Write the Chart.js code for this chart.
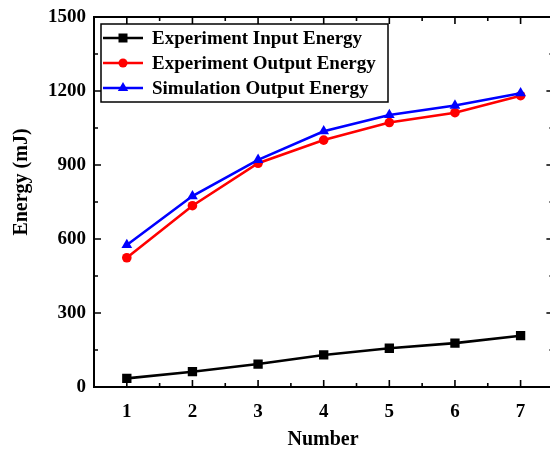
<!DOCTYPE html>
<html>
<head>
<meta charset="utf-8">
<script src="https://cdn.jsdelivr.net/npm/chart.js@4"></script>
<style>
  html, body { margin: 0; padding: 0; background: #fff; overflow: hidden; }
  #wrap { width: 550px; height: 449px; overflow: hidden; }
</style>
</head>
<body>
<div id="wrap"><canvas id="energyChart" width="560" height="449"></canvas></div>
<script>
const numbers = [1, 2, 3, 4, 5, 6, 7];
const inputEnergy = [35, 62, 93, 130, 157, 178, 208];
const outputEnergy = [524, 735, 907, 1001, 1072, 1112, 1181];
const simEnergy = [576, 774, 921, 1037, 1103, 1141, 1191];
const seriesNames = ['Experiment Input Energy', 'Experiment Output Energy', 'Simulation Output Energy'];
const xTicks = [1, 2, 3, 4, 5, 6, 7];
const yTicks = [0, 300, 600, 900, 1200, 1500];

const serif = '"Liberation Serif", "Times New Roman", serif';

function toPoints(values) {
    return numbers.map((n, i) => ({ x: n, y: values[i] }));
}

function drawMarker(ctx, style, x, y, color) {
    ctx.fillStyle = color;
    ctx.beginPath();
    if (style === 'rect') {
        ctx.rect(x - 4.5, y - 4.5, 9, 9);
    } else if (style === 'circle') {
        ctx.arc(x, y, 4.5, 0, Math.PI * 2);
    } else {
        ctx.moveTo(x, y - 6);
        ctx.lineTo(x + 5.2, y + 3);
        ctx.lineTo(x - 5.2, y + 3);
        ctx.closePath();
    }
    ctx.fill();
}

// frame, inward ticks, axis titles and the boxed legend
const framePlugin = {
    id: 'frame',
    afterDraw(chart) {
        const { ctx, chartArea: a, scales } = chart;
        const xs = scales.x, ys = scales.y;
        ctx.save();
        ctx.strokeStyle = '#000';
        ctx.lineWidth = 2;
        ctx.strokeRect(a.left, a.top, a.right - a.left, a.bottom - a.top);

        ctx.lineWidth = 1.6;
        ctx.beginPath();
        xTicks.forEach(v => {
            const px = xs.getPixelForValue(v);
            ctx.moveTo(px, a.bottom); ctx.lineTo(px, a.bottom - 7);
            ctx.moveTo(px, a.top); ctx.lineTo(px, a.top + 7);
            const mx = xs.getPixelForValue(v + 0.5);
            ctx.moveTo(mx, a.bottom); ctx.lineTo(mx, a.bottom - 4);
            ctx.moveTo(mx, a.top); ctx.lineTo(mx, a.top + 4);
        });
        yTicks.forEach((v, i) => {
            const py = ys.getPixelForValue(v);
            ctx.moveTo(a.left, py); ctx.lineTo(a.left + 7, py);
            ctx.moveTo(a.right, py); ctx.lineTo(a.right - 7, py);
            if (i < yTicks.length - 1) {
                const my = ys.getPixelForValue(v + 150);
                ctx.moveTo(a.left, my); ctx.lineTo(a.left + 4, my);
                ctx.moveTo(a.right, my); ctx.lineTo(a.right - 4, my);
            }
        });
        ctx.stroke();

        // axis titles
        ctx.fillStyle = '#000';
        ctx.font = 'bold 20px ' + serif;
        ctx.textAlign = 'center';
        ctx.textBaseline = 'alphabetic';
        ctx.fillText('Number', 323, 445);
        ctx.save();
        ctx.translate(22, 182);
        ctx.rotate(-Math.PI / 2);
        ctx.textBaseline = 'middle';
        ctx.fillText('Energy (mJ)', 0, 0);
        ctx.restore();

        // legend
        ctx.fillStyle = '#fff';
        ctx.fillRect(101, 24, 287, 78);
        ctx.lineWidth = 1.5;
        ctx.strokeStyle = '#000';
        ctx.strokeRect(101, 24, 287, 78);
        ctx.font = 'bold 19px ' + serif;
        ctx.textAlign = 'left';
        ctx.textBaseline = 'middle';
        chart.data.datasets.forEach((ds, i) => {
            const y = 38 + i * 25;
            ctx.strokeStyle = ds.borderColor;
            ctx.lineWidth = 2.5;
            ctx.beginPath();
            ctx.moveTo(103, y); ctx.lineTo(143, y);
            ctx.stroke();
            drawMarker(ctx, ds.pointStyle, 123, y, ds.borderColor);
            ctx.fillStyle = '#000';
            ctx.fillText(ds.label, 152, y + 1);
        });
        ctx.restore();
    }
};

const ctx = document.getElementById('energyChart').getContext('2d');
const energyChart = new Chart(ctx, {
    type: 'line',
    data: {
        datasets: [{
            label: seriesNames[0],
            data: toPoints(inputEnergy),
            borderColor: '#000000',
            backgroundColor: '#000000',
            pointStyle: 'rect',
            pointRadius: 6.6,
            order: 2
        }, {
            label: seriesNames[1],
            data: toPoints(outputEnergy),
            borderColor: '#ff0000',
            backgroundColor: '#ff0000',
            pointStyle: 'circle',
            pointRadius: 4.8,
            order: 1
        }, {
            label: seriesNames[2],
            data: toPoints(simEnergy),
            borderColor: '#0000ff',
            backgroundColor: '#0000ff',
            pointStyle: 'triangle',
            pointRadius: 6.2,
            order: 0
        }]
    },
    options: {
        responsive: false,
        animation: false,
        elements: {
            line: { borderWidth: 2.6, tension: 0 },
            point: { borderWidth: 0 }
        },
        layout: { padding: { top: 17, right: 3, left: 0, bottom: 0 } },
        plugins: {
            legend: { display: false },
            tooltip: { enabled: false }
        },
        scales: {
            x: {
                type: 'linear',
                min: 0.5,
                max: 7.5,
                grid: { display: false },
                border: { display: false },
                afterBuildTicks: s => { s.ticks = xTicks.map(v => ({ value: v })); },
                afterFit: s => { s.height = 62; },
                ticks: {
                    padding: 6,
                    color: '#000',
                    font: { family: serif, size: 19, weight: 'bold' },
                    callback: v => String(v)
                }
            },
            y: {
                min: 0,
                max: 1500,
                grid: { display: false },
                border: { display: false },
                afterBuildTicks: s => { s.ticks = yTicks.map(v => ({ value: v })); },
                afterFit: s => { s.width = 94; },
                ticks: {
                    padding: 0,
                    color: '#000',
                    font: { family: serif, size: 19, weight: 'bold' },
                    callback: v => String(v)
                }
            }
        }
    },
    plugins: [framePlugin]
});
</script>
</body>
</html>
